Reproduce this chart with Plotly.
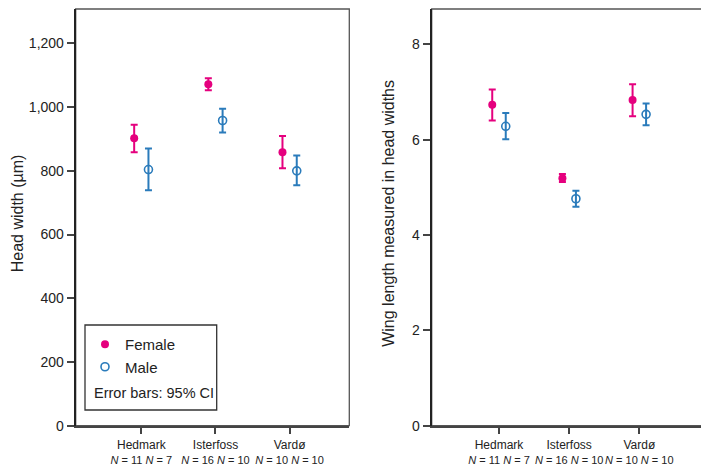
import plotly.graph_objects as go
from plotly.subplots import make_subplots

sites = ["Hedmark", "Isterfoss", "Vardø"]
female_n = [11, 16, 10]
male_n = [7, 10, 10]

# Head width (µm): mean, lower and upper 95% CI
hw_female_mean = [902, 1072, 858]
hw_female_low = [858, 1053, 808]
hw_female_high = [945, 1091, 909]
hw_male_mean = [804, 958, 800]
hw_male_low = [739, 920, 755]
hw_male_high = [870, 995, 848]

# Wing length measured in head widths
wl_female_mean = [6.73, 5.19, 6.83]
wl_female_low = [6.40, 5.11, 6.49]
wl_female_high = [7.05, 5.28, 7.16]
wl_male_mean = [6.28, 4.76, 6.53]
wl_male_low = [6.01, 4.59, 6.30]
wl_male_high = [6.56, 4.93, 6.76]

left_ticks = [0, 200, 400, 600, 800, 1000, 1200]
right_ticks = [0, 2, 4, 6, 8]

FEMALE = "#E5007E"
MALE = "#2A7BBB"
FONT = "Liberation Sans, Arial, sans-serif"
W, H = 709, 468
OFF = 8  # page body margin offset


def px(x):
    return (x - OFF) / W


def py(y):
    return 1 - (y - OFF) / H


tick_text = [f"{s}<br><span style='font-size:11px'><i>N</i> = {f} <i>N</i> = {m}</span>"
             for s, f, m in zip(sites, female_n, male_n)]

fig = make_subplots(rows=1, cols=2)


def add_pair(col, fm, fl, fh, mm, ml, mh, show):
    fig.add_trace(go.Scatter(
        x=sites, y=fm, mode="markers", name="Female", showlegend=show,
        legendgroup="F", offsetgroup="F", alignmentgroup=f"g{col}",
        marker=dict(symbol="circle", size=8, color=FEMALE),
        error_y=dict(type="data", symmetric=False,
                     array=[h - m for h, m in zip(fh, fm)],
                     arrayminus=[m - l for m, l in zip(fm, fl)],
                     color=FEMALE, thickness=2, width=3.5),
    ), row=1, col=col)
    fig.add_trace(go.Scatter(
        x=sites, y=mm, mode="markers", name="Male", showlegend=show,
        legendgroup="M", offsetgroup="M", alignmentgroup=f"g{col}",
        marker=dict(symbol="circle-open", size=8, color=MALE, line=dict(width=1.6, color=MALE)),
        error_y=dict(type="data", symmetric=False,
                     array=[h - m for h, m in zip(mh, mm)],
                     arrayminus=[m - l for m, l in zip(mm, ml)],
                     color=MALE, thickness=2, width=3.5),
    ), row=1, col=col)


add_pair(1, hw_female_mean, hw_female_low, hw_female_high,
         hw_male_mean, hw_male_low, hw_male_high, True)
add_pair(2, wl_female_mean, wl_female_low, wl_female_high,
         wl_male_mean, wl_male_low, wl_male_high, False)

ydom = [py(425.7), py(9)]
common_x = dict(type="category", tickvals=sites, ticktext=tick_text, tickangle=0,
                automargin=False,
                ticks="outside", ticklen=7, tickwidth=1.5, tickcolor="#444",
                showline=True, linecolor="#444", linewidth=1.5, showgrid=False,
                zeroline=False, tickfont=dict(family=FONT, size=12, color="#222"))
common_y = dict(ticks="outside", ticklen=7, tickwidth=1.5, tickcolor="#444",
                automargin=False,
                showline=True, linecolor="#222", linewidth=2, showgrid=False,
                zeroline=False, tickfont=dict(family=FONT, size=14, color="#222"),
                domain=ydom)

fig.update_xaxes(common_x)
fig.update_yaxes(common_y)
fig.update_layout(
    xaxis=dict(domain=[px(75.7), px(349.3)], range=[-0.885, 2.805]),
    xaxis2=dict(domain=[px(431.7), px(706.7)], range=[-0.959, 2.96]),
    yaxis=dict(range=[0, 1308], tickvals=left_ticks, tickformat=","),
    yaxis2=dict(range=[0, 8.74], tickvals=right_ticks),
)

for xr, yr in (("x domain", "y domain"), ("x2 domain", "y2 domain")):
    fig.add_shape(type="rect", xref=xr, yref=yr, x0=0, x1=1, y0=0, y1=1,
                  line=dict(color="#555", width=1.3), layer="below")

# legend frame
fig.add_shape(type="rect", xref="paper", yref="paper",
              x0=px(85), x1=px(216.7), y0=py(410), y1=py(325),
              line=dict(color="#333", width=1.3))

fig.add_annotation(text="Error bars: 95% CI", xref="paper", yref="paper",
                   x=px(91.5), y=py(392.7), xanchor="left", yanchor="middle",
                   showarrow=False, font=dict(family=FONT, size=14.5, color="#222"))

fig.add_annotation(text="Head width (µm)", xref="paper", yref="paper",
                   x=px(17.5), y=py(213.8), xanchor="center", yanchor="middle",
                   textangle=-90, showarrow=False,
                   font=dict(family=FONT, size=16, color="#222"))
fig.add_annotation(text="Wing length measured in head widths", xref="paper", yref="paper",
                   x=px(389), y=py(213.8), xanchor="center", yanchor="middle",
                   textangle=-90, showarrow=False,
                   font=dict(family=FONT, size=16, color="#222"))

fig.update_layout(
    width=W, height=H,
    margin=dict(l=0, r=0, t=0, b=0, autoexpand=False),
    paper_bgcolor="white", plot_bgcolor="white",
    scattermode="group", scattergap=0.615,
    showlegend=True,
    legend=dict(x=px(85), y=py(328), xanchor="left", yanchor="top",
                bgcolor="rgba(0,0,0,0)", borderwidth=0,
                font=dict(family=FONT, size=15, color="#222"),
                tracegroupgap=0, itemwidth=30),
    font=dict(family=FONT, color="#222"),
)

fig.write_html("out.html")
